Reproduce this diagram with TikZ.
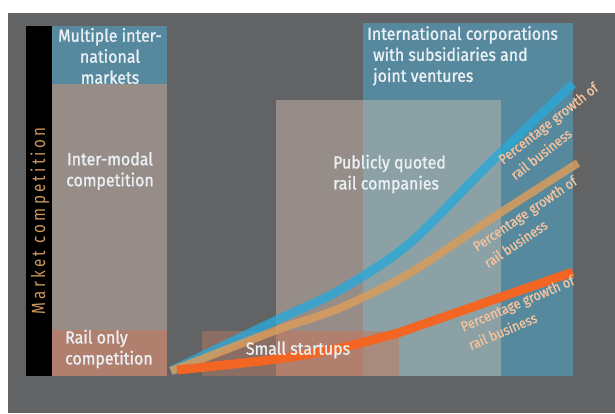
\documentclass[tikz,border=0pt]{standalone}
\usepackage{fontspec}
\setmainfont{Fira Sans}[FakeStretch=0.91,FakeBold=1.2]
\newfontfamily\axisfont{Fira Sans}[FakeStretch=0.8,LetterSpace=17]

\definecolor{panelgray}{HTML}{626365}
\definecolor{railblue}{HTML}{56889E}
\definecolor{modalgray}{HTML}{978D88}
\definecolor{railsalmon}{HTML}{B07F6D}
\definecolor{quotedblue}{HTML}{8BA1A5}
\definecolor{startdark}{HTML}{8A6E63}
\definecolor{startmix}{HTML}{A98A7E}
\definecolor{titlewhite}{HTML}{EAF0F4}
\definecolor{labelpeach}{HTML}{F3C29C}
\definecolor{axisgold}{HTML}{C9955B}
\definecolor{curveblue}{HTML}{2AA8D8}
\definecolor{curvetan}{HTML}{D89C5C}
\definecolor{curveorange}{HTML}{F26522}

\begin{document}
\begin{tikzpicture}[x=1pt,y=-1pt,
	title/.style={text=titlewhite,font=\fontsize{17.5}{21}\selectfont,inner sep=0pt},
	growth/.style={text=labelpeach,font=\fontsize{14}{20}\selectfont,align=left,inner sep=0pt,anchor=north west},
	curve/.style={line width=9pt}]
	\useasboundingbox (0,0) rectangle (615,413);
	\fill[panelgray] (8,13) rectangle (615,413);
	% axis bar and left column
	\fill[black] (26,26) rectangle (52,376);
	\fill[railblue] (52,26) rectangle (167,84);
	\fill[modalgray] (52,84) rectangle (167,330);
	\fill[railsalmon] (52,330) rectangle (167,376);
	% company types on the right
	\fill[railblue] (363,23) rectangle (573,376);
	\fill[modalgray] (276,100) rectangle (363,376);
	\fill[quotedblue] (363,100) rectangle (501,376);
	\fill[startdark] (202,331) rectangle (276,376);
	\fill[railsalmon] (276,331) rectangle (363,376);
	\fill[startmix] (363,331) rectangle (399,376);

	% growth curves
	\coordinate (start) at (171,371);
	\coordinate (blue end) at (573,84);
	\coordinate (tan end) at (578,163);
	\coordinate (orange kink) at (398,333);
	\coordinate (orange end) at (573,272);
	\draw[curve,curveblue,opacity=0.8] plot[smooth] coordinates {(start) (277,320) (340,290) (410,243) (490,163) (blue end)};
	\draw[curve,curvetan,opacity=0.85,line width=8pt] plot[smooth] coordinates {(start) (277,330) (340,308) (410,273) (500,213) (tan end)};
	\draw[curve,curveorange] plot[smooth] coordinates {(177,370) (277,359) (340,348) (orange kink)} -- (orange end);

	\node[rotate=90,anchor=base,text=axisgold,font=\axisfont\fontsize{19}{19}\selectfont] (axis) at (45,221) {Market competition};
	\node[title,align=center] (intl) at (110,56) {Multiple inter-\\national\\markets};
	\node[title,align=center] (modal) at (110,171) {Inter-modal\\competition};
	\node[title,align=left,anchor=west] (railonly) at (65,349) {Rail only\\competition};
	\node[title] (startups) at (298,350) {Small startups};
	\node[title,align=left,anchor=west] (quoted) at (333,174) {Publicly quoted\\rail companies};
	\node[title,align=left,anchor=north west] (corp) at (367,26) {International corporations\\\hspace*{6pt}with subsidiaries and\\\hspace*{6pt}joint ventures};

	\node[growth,rotate=38] (blue label) at (496.5,156.5) {Percentage growth of\\rail business};
	\node[growth,rotate=34] (tan label) at (471,243) {Percentage growth of\\rail business};
	\node[growth,rotate=23] (orange label) at (459,322) {Percentage growth of\\rail business};
\end{tikzpicture}
\end{document}
